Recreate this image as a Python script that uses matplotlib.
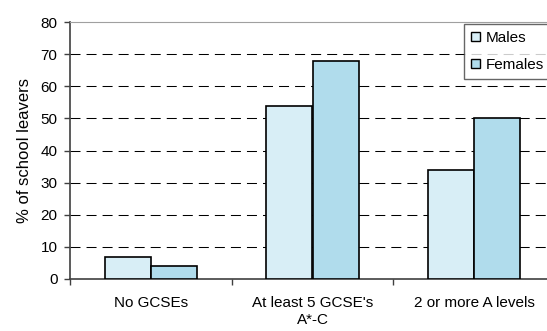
import numpy as np
import matplotlib.pyplot as plt
from matplotlib.patches import Patch

# qualification categories and percentages of school leavers
categories = ["No GCSEs", "At least 5 GCSE's\nA*-C", "2 or more A levels"]
males = [7, 54, 34]
females = [4, 68, 50]

male_col = "#d8eef6"
female_col = "#b0dcec"

plt.rcParams["font.family"] = ["Liberation Sans", "DejaVu Sans"]

fig = plt.figure(figsize=(5.47, 3.31), dpi=100)
# axes run slightly past the right edge of the figure
ax = fig.add_axes([70 / 547, 52 / 331, 485 / 547, 257 / 331])

x = np.arange(len(categories))
w = 0.285
ax.bar(x - w / 2, males, w, color=male_col, edgecolor="black", linewidth=1.2, zorder=3)
ax.bar(x + w / 2, females, w, color=female_col, edgecolor="black", linewidth=1.2, zorder=3)

ax.set_xlim(-0.5, 2.5)
ax.set_ylim(0, 80)
ax.set_yticks(range(0, 81, 10))
for v in range(10, 80, 10):
    ax.axhline(v, color="black", linestyle=(0, (9.6, 5.8)), linewidth=0.75, zorder=1)

ax.set_xticks(x)
ax.set_xticklabels(categories, fontsize=11, linespacing=1.3)
ax.set_xticks([-0.5, 0.5, 1.5], minor=True)
ax.tick_params(axis="x", which="major", length=0, pad=12)
ax.tick_params(axis="x", which="minor", length=4, width=1, color="#404040")
ax.tick_params(axis="y", length=4, width=1, color="#404040", labelsize=11, pad=5)

ax.spines["top"].set_color("#a0a0a0")
ax.spines["right"].set_visible(False)
ax.spines["left"].set_color("#404040")
ax.spines["bottom"].set_color("#404040")
ax.spines["left"].set_linewidth(1.2)
ax.spines["bottom"].set_linewidth(1.2)

ax.set_ylabel("% of school leavers", fontsize=12, labelpad=6)

handles = [Patch(facecolor=male_col, edgecolor="black", label="Males"),
           Patch(facecolor=female_col, edgecolor="black", label="Females")]
leg = fig.legend(handles=handles, loc="upper left", bbox_to_anchor=(464 / 547, 1 - 24 / 331),
                 fontsize=11, frameon=True, fancybox=False, handlelength=0.6, handleheight=0.6,
                 handletextpad=0.4, borderpad=0.45, labelspacing=0.85, borderaxespad=0)
leg.get_frame().set_edgecolor("#404040")
leg.get_frame().set_linewidth(1)

fig.savefig("out.png", dpi=100)
